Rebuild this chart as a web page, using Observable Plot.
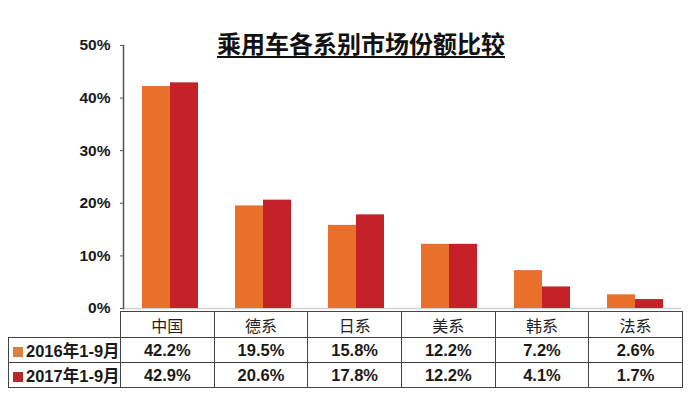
<!DOCTYPE html>
<html><head><meta charset="utf-8">
<script src="https://cdn.jsdelivr.net/npm/d3@7"></script>
<script src="https://cdn.jsdelivr.net/npm/@observablehq/plot@0.6"></script>
<style>
html,body{margin:0;padding:0;background:#fff;}
body{width:695px;height:395px;overflow:hidden;position:relative;font-family:"Liberation Sans",Arial,sans-serif;}
#chart{position:absolute;left:0;top:0;}
#title{position:absolute;left:0;top:29px;width:722px;text-align:center;font-family:"Noto Sans CJK SC",sans-serif;font-weight:700;font-size:24px;line-height:28px;color:#111;text-decoration:underline;text-decoration-thickness:2px;text-underline-offset:3px;}
#tbl{position:absolute;left:8px;top:311px;border-collapse:collapse;table-layout:fixed;}
#tbl td{border:1.5px solid #444;padding:0;text-align:center;color:#1a1a1a;}
#tbl td.blank{border:none;}
#tbl tr.head td{height:25px;font-family:"Noto Sans CJK SC",sans-serif;font-size:16px;font-weight:400;color:#222;}
#tbl tr.row td{height:23px;font-size:16.5px;font-weight:700;}
#tbl td.lab{text-align:left;padding-left:4px;font-family:"Liberation Sans","Noto Sans CJK SC",sans-serif;}
.sw{display:inline-block;width:10px;height:10px;margin-right:3px;vertical-align:0px;}
</style></head>
<body>
<div id="chart"></div>
<div id="title"></div>
<table id="tbl"></table>
<script>
const titleText = "乘用车各系别市场份额比较";
const categories = ["中国", "德系", "日系", "美系", "韩系", "法系"];
const seriesNames = ["2016年1-9月", "2017年1-9月"];
const values2016 = [42.2, 19.5, 15.8, 12.2, 7.2, 2.6];
const values2017 = [42.9, 20.6, 17.8, 12.2, 4.1, 1.7];
const yTicks = [0, 10, 20, 30, 40, 50];
const colors = ["#E8702A", "#C42128"];
const swatchColors = ["#D9823F", "#B8262C"];

const rows = [];
categories.forEach((c, i) => {
  rows.push({cat: c, series: seriesNames[0], value: values2016[i]});
  rows.push({cat: c, series: seriesNames[1], value: values2017[i]});
});

document.getElementById("title").textContent = titleText;

const chart = Plot.plot({
  width: 695,
  height: 320,
  marginLeft: 122,
  marginRight: 13,
  marginTop: 45,
  marginBottom: 12,
  style: {fontFamily: "'Liberation Sans', Arial, sans-serif", background: "transparent"},
  fx: {domain: categories, padding: 0, axis: null, label: null},
  x: {domain: seriesNames, paddingInner: 0, paddingOuter: 0.65, axis: null, label: null},
  y: {domain: [0, 50], axis: null, label: null},
  color: {domain: seriesNames, range: colors},
  marks: [
    Plot.ruleY([0], {stroke: "#d0d0d0", strokeWidth: 1.5}),
    Plot.barY(rows, {fx: "cat", x: "series", y: "value", fill: "series"}),
    Plot.axisY({ticks: yTicks, tickFormat: d => d + "%", label: null, tickSize: 3, tickPadding: 10, fontSize: 15.5, fontWeight: "bold", fill: "#1a1a1a", stroke: "#555"}),
    Plot.frame({anchor: "left", facetAnchor: "left", stroke: "#555", strokeWidth: 1.5})
  ]
});
document.getElementById("chart").appendChild(chart);

// data table
const tbl = document.getElementById("tbl");
const colW = (682 - 120) / categories.length;
let html = `<colgroup><col style="width:112px">${categories.map(() => `<col style="width:${colW}px">`).join("")}</colgroup>`;
html += `<tr class="head"><td class="blank"></td>${categories.map(c => `<td>${c}</td>`).join("")}</tr>`;
[values2016, values2017].forEach((vals, k) => {
  html += `<tr class="row"><td class="lab"><span class="sw" style="background:${swatchColors[k]}"></span>${seriesNames[k]}</td>${vals.map(v => `<td>${v.toFixed(1)}%</td>`).join("")}</tr>`;
});
tbl.innerHTML = html;
</script>
</body></html>
